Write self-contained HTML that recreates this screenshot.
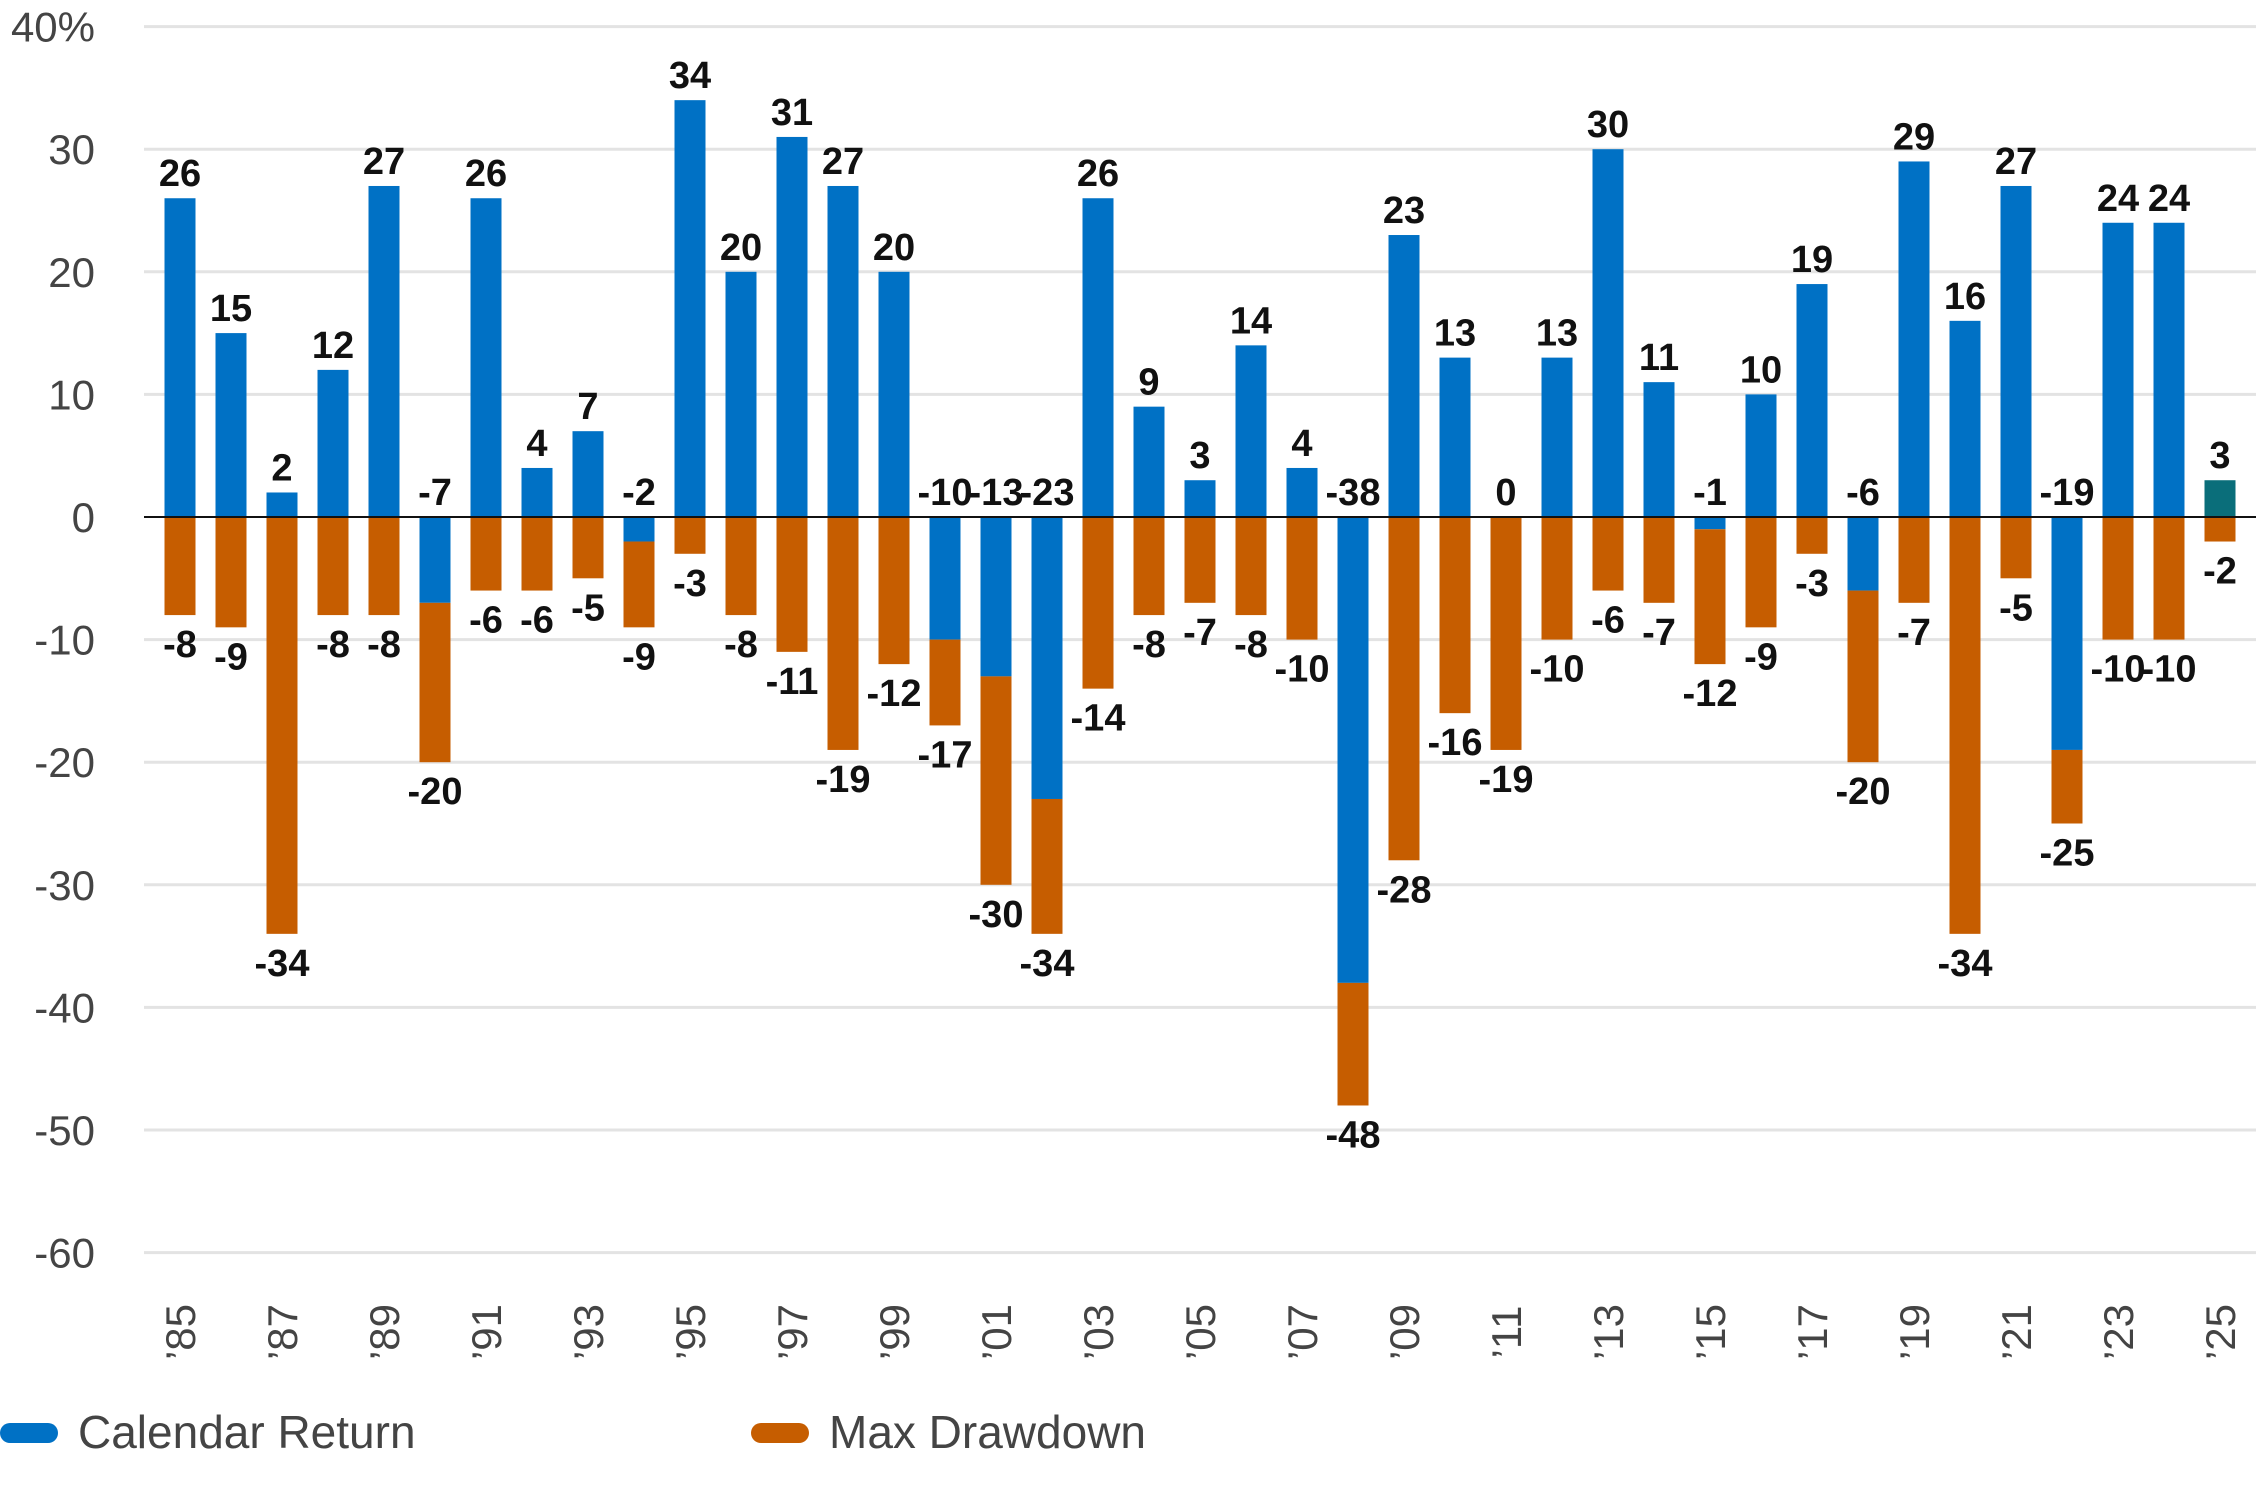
<!DOCTYPE html>
<html><head><meta charset="utf-8"><style>
html,body{margin:0;padding:0;background:#fff;}
svg{display:block;font-family:"Liberation Sans",sans-serif;}
</style></head><body>
<svg id="chart" width="2256" height="1509" viewBox="0 0 2256 1509" xmlns="http://www.w3.org/2000/svg">
<g id="grid"></g>
<g id="bars"></g>
<g id="labels"></g>
<g id="axes"></g>
<g>
  <rect x="0" y="1423" width="58" height="20" rx="10" fill="#0071c5"/>
  <text x="78" y="1448" font-size="46" fill="#444">Calendar Return</text>
  <rect x="751" y="1423" width="58" height="20" rx="10" fill="#c65d00"/>
  <text x="829" y="1448" font-size="46" fill="#444">Max Drawdown</text>
</g>
</svg>
<script>
const years = [1985,1986,1987,1988,1989,1990,1991,1992,1993,1994,1995,1996,1997,1998,1999,2000,2001,2002,2003,2004,2005,2006,2007,2008,2009,2010,2011,2012,2013,2014,2015,2016,2017,2018,2019,2020,2021,2022,2023,2024,2025];
const returns = [26,15,2,12,27,-7,26,4,7,-2,34,20,31,27,20,-10,-13,-23,26,9,3,14,4,-38,23,13,0,13,30,11,-1,10,19,-6,29,16,27,-19,24,24,3];
const drawdowns = [-8,-9,-34,-8,-8,-20,-6,-6,-5,-9,-3,-8,-11,-19,-12,-17,-30,-34,-14,-8,-7,-8,-10,-48,-28,-16,-19,-10,-6,-7,-12,-9,-3,-20,-7,-34,-5,-25,-10,-10,-2];
const yTicks = [40,30,20,10,0,-10,-20,-30,-40,-50,-60];

const NS = "http://www.w3.org/2000/svg";
const y = v => 517 - v * 12.26;
const x = i => 180 + i * 51.0;
const bw = 31;
function mk(tag, attrs, parent, txt){
  const e = document.createElementNS(NS, tag);
  for (const k in attrs) e.setAttribute(k, attrs[k]);
  if (txt !== undefined) e.textContent = txt;
  parent.appendChild(e);
  return e;
}
const grid = document.getElementById('grid');
const axes = document.getElementById('axes');
const bars = document.getElementById('bars');
const labels = document.getElementById('labels');
yTicks.forEach(t => {
  if (t !== 0) {
    const l = mk('line', {x1:144, x2:2256, y1:y(t), y2:y(t), stroke:'#e3e3e3', 'stroke-width':3}, grid);
    
    
  }
  const tx = mk('text', {x: 95, y: y(t)+15, 'text-anchor':'end', 'font-size':42, fill:'#444'}, axes, t===40 ? '40%' : String(t));
  
  
});
years.forEach((yr, i) => {
  const r = returns[i], d = drawdowns[i];
  const cx = x(i);
  const rb = mk('rect', {x: cx-bw/2, y: Math.min(y(0), y(r)), width: bw, height: Math.max(Math.abs(y(r)-y(0)),1.5), fill: yr===2025 ? '#0a6e7a' : '#0071c5'}, bars);
  
  
  const start = r < 0 ? r : 0;
  const db = mk('rect', {x: cx-bw/2, y: y(start), width: bw, height: Math.max(y(d)-y(start),0), fill:'#c65d00'}, bars);
  
  
  const ly = r >= 0 ? y(r) - 12 : y(0) - 12;
  const rl = mk('text', {x: cx, y: ly, 'text-anchor':'middle', 'font-size':38, 'font-weight':'bold', fill:'#111'}, labels, String(r));
  
  
  const dl = mk('text', {x: cx, y: y(d) + 42, 'text-anchor':'middle', 'font-size':38, 'font-weight':'bold', fill:'#111'}, labels, String(d));
  
  
  if (i % 2 === 0) {
    const xl = mk('text', {x: 0, y: 0, 'text-anchor':'middle', 'font-size':42, fill:'#444', transform:`translate(${cx+15},1332) rotate(-90)`}, axes, "\u2019" + String(yr).slice(2));
    
    
  }
});
const zl = mk('line', {x1:144, x2:2256, y1:y(0), y2:y(0), stroke:'#111', 'stroke-width':2}, axes);


</script>
</body></html>
